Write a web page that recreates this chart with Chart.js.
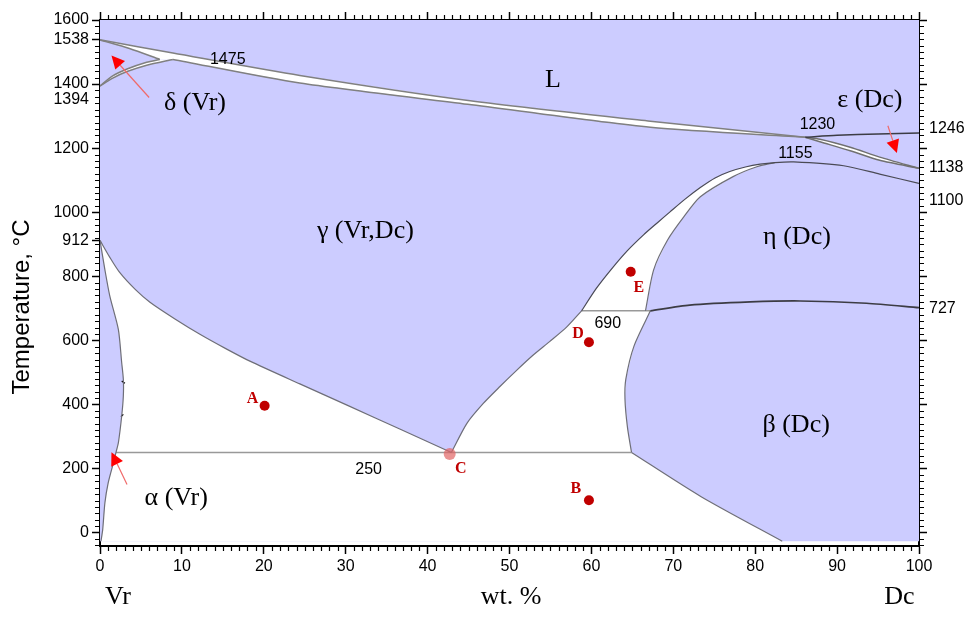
<!DOCTYPE html>
<html>
<head>
<meta charset="utf-8">
<title>Vr-Dc phase diagram</title>
<script src="https://cdn.jsdelivr.net/npm/chart.js@4.4.0/dist/chart.umd.min.js"></script>
<style>
  html, body { margin: 0; padding: 0; background: #fff; }
  #chart { display: block; }
</style>
</head>
<body>
<canvas id="chart" width="975" height="627"></canvas>
<script>
// Phase boundaries, every point is [wt. %, temperature in °C]
const liquidus = [[0, 1538], [8.9, 1497], [24.4, 1427], [45.2, 1348], [67.2, 1284], [86.1, 1234]];
const solidus = [[86.1, 1234], [67.2, 1265], [44.9, 1337], [24.4, 1403], [8.9, 1477]];
const deltaSolidus = [[7.3, 1477], [3.6, 1511], [0, 1538]];
const deltaUpper = [[0, 1394], [1.5, 1425], [3.3, 1447], [5.7, 1468], [7.3, 1477]];
const deltaLower = [[8.9, 1477], [5.7, 1459], [3.3, 1439], [1.5, 1418], [0, 1394]];
const epsLiquidus = [[86.1, 1234], [90, 1240], [95, 1244], [100, 1247]];
const epsUpper = [[86.1, 1234], [87.9, 1228], [91.6, 1203], [95.2, 1172], [100, 1137]];
const epsLower = [[100, 1137], [95.2, 1162], [91.6, 1192], [87.9, 1220], [86.1, 1234]];
const etaTop = [[82.4, 1155], [84.7, 1157], [90.8, 1145], [95.2, 1119], [100, 1090]];
const eOuter = [[58.8, 692], [60.6, 762], [62.6, 827], [64.4, 880], [66.4, 930], [68.1, 968], [69.6, 1001], [71.4, 1040], [73.3, 1077], [75.1, 1107], [76.9, 1127], [78.8, 1141], [80.6, 1150], [82.4, 1155]];
const eInner = [[82.4, 1155], [80.2, 1142], [77.3, 1111], [73.3, 1048], [71.3, 986], [69.3, 913], [67.6, 820], [66.6, 692]];
const etaBeta = [[67.2, 692], [72, 710], [79.4, 720], [85.5, 723], [93.6, 716], [100, 702]];
const betaLeft = [[67.2, 692], [65.2, 582], [64.2, 478], [64.1, 416], [64.4, 329], [64.9, 250]];
const betaLower = [[64.9, 250], [73.4, 112], [83.3, -27]];
const gammaRight = [[42.9, 250], [44.8, 341], [46.8, 403], [48.8, 455], [50.9, 507], [52.9, 554], [54.9, 596], [57.0, 642], [58.8, 692]];
const gammaLeft = [[0, 912], [1.2, 859], [2.4, 812], [4.3, 759], [6.1, 719], [9.2, 666], [12.2, 619], [15.3, 575], [18.3, 535], [24.4, 464], [30.5, 394], [36.6, 323], [42.9, 250]];
const alphaRight = [[0, 912], [0.6, 820], [1.2, 738], [2.24, 634], [2.65, 530], [2.85, 478], [2.85, 426], [2.65, 364], [2.24, 280], [1.95, 250], [1.63, 217], [1, 155], [0.6, 93], [0.33, 9], [0.12, -27]];
const line250 = [[1.95, 250], [64.9, 250]];
const line690 = [[58.8, 692], [67.2, 692]];
const dashA = [[2.65, 473], [3.05, 466]];
const dashB = [[2.56, 362], [2.85, 369]];
const diagramBox = [[0, -27], [100, -27], [100, 1600], [0, 1600]];

// Marked alloys
const pointNames = ['A', 'B', 'C', 'D', 'E'];
const pointWt = [20.1, 59.7, 42.7, 59.7, 64.8];
const pointTemp = [396, 101, 245, 594, 814];

// Phase names and isotherm values written on the diagram
const phaseNames = ['L', 'δ (Vr)', 'ε (Dc)', 'γ (Vr,Dc)', 'η (Dc)', 'β (Dc)', 'α (Vr)'];
const phaseWt = [55.3, 11.6, 94.0, 32.4, 85.1, 85.0, 9.3];
const phaseTemp = [1413, 1341, 1350, 941, 923, 336, 108];
const isoNames = ['1475', '1230', '1155', '690', '250'];
const isoWt = [15.6, 87.6, 84.9, 62.0, 32.8];
const isoTemp = [1475, 1272, 1182, 651, 195];

// Red arrows, tail -> tip
const arrowTails = [[6.0, 1358], [96.2, 1270], [3.3, 150]];
const arrowTips = [[1.4, 1489], [97.3, 1185], [1.4, 251]];

// Tick labels
const xTicks = [0, 10, 20, 30, 40, 50, 60, 70, 80, 90, 100];
const yTicks = [0, 200, 400, 600, 800, 912, 1000, 1200, 1400, 1538, 1600];
const yMajor = [0, 200, 400, 600, 800, 1000, 1200, 1400, 1600];
const rightLabels = ['1246', '1138', '1100', '727'];
const rightValues = [1246, 1138, 1100, 727];

const lavender = '#ccccff';
const serif = '"Liberation Serif", "Times New Roman", serif';
const sans = '"Liberation Sans", Arial, sans-serif';

const pts = arr => arr.map(p => ({ x: p[0], y: p[1] }));
const rev = arr => arr.slice().reverse();

// Filled area, no outline
function region(arr, color, order) {
  return {
    data: pts(arr), fill: 'shape', backgroundColor: color,
    borderColor: 'rgba(0,0,0,0)', borderWidth: 0, pointRadius: 0, tension: 0, order: order
  };
}

// Boundary curve
function boundary(arr, color, width) {
  return {
    data: pts(arr), fill: false, borderColor: color, borderWidth: width,
    pointRadius: 0, tension: 0.25, order: 5
  };
}

const bigWhite = [...alphaRight, ...rev(betaLower), ...rev(betaLeft), ...rev(line690), ...rev(gammaRight), ...rev(gammaLeft)];
const topBand = [...liquidus, ...solidus, ...deltaSolidus];

const edge = '#6e6e78';
const datasets = [
  {
    data: pointWt.map((v, i) => ({ x: v, y: pointTemp[i] })),
    showLine: false,
    pointRadius: [5, 5, 6, 5, 5],
    pointBackgroundColor: ['#c00000', '#c00000', 'rgba(225,100,100,0.7)', '#c00000', '#c00000'],
    pointBorderWidth: 0,
    order: 1
  },
  region(diagramBox, lavender, 10),
  region(bigWhite, '#ffffff', 9),
  region(topBand, '#ffffff', 9),
  region([...deltaUpper, ...deltaLower], '#ffffff', 9),
  region([...epsUpper, ...epsLower], '#ffffff', 9),
  region([...eOuter, ...eInner], '#ffffff', 9),
  boundary(liquidus, '#808080', 1.5),
  boundary(solidus, '#808080', 1.5),
  boundary(deltaSolidus, '#808080', 1.5),
  boundary(deltaUpper, '#808080', 1.5),
  boundary(deltaLower, '#808080', 1.5),
  boundary(epsLiquidus, '#3c3c44', 1.5),
  boundary(epsUpper, '#707070', 1.5),
  boundary(epsLower, '#707070', 1.5),
  boundary([...eOuter, ...etaTop.slice(1)], '#4a4a55', 1.2),
  boundary(eInner, edge, 1.2),
  boundary(etaBeta, '#3c3c44', 1.6),
  boundary(betaLeft, edge, 1.2),
  boundary(betaLower, edge, 1.2),
  boundary(gammaRight, edge, 1.2),
  boundary(gammaLeft, edge, 1.2),
  boundary(alphaRight, edge, 1.2),
  boundary(line250, '#999999', 1.5),
  boundary(line690, '#999999', 1.5),
  boundary(dashA, '#000000', 1.2),
  boundary(dashB, '#000000', 1.2)
];

// Axis helpers
const tickGrid = { display: true, drawOnChartArea: false, drawTicks: true, tickLength: 8, tickColor: '#000', tickWidth: 1.5 };
const axisBorder = { display: true, color: '#000', width: 2 };
const tickFont = { family: sans, size: 16 };
const setTicks = values => scale => { scale.ticks = values.map(v => ({ value: v })); };

// Draws minor ticks, texts and arrows
const annotations = {
  id: 'annotations',
  beforeDraw(chart) {
    const ctx = chart.ctx;
    ctx.save();
    ctx.fillStyle = '#fff';
    ctx.fillRect(0, 0, chart.width, chart.height);
    ctx.restore();
  },
  afterDraw(chart) {
    const { ctx, chartArea: area } = chart;
    const x = chart.scales.x;
    const y = chart.scales.y;
    const px = v => x.getPixelForValue(v);
    const py = v => y.getPixelForValue(v);
    ctx.save();

    // minor ticks
    ctx.strokeStyle = '#000';
    ctx.lineWidth = 1.2;
    ctx.beginPath();
    for (let v = 1; v < 100; v++) {
      if (v % 10 === 0) continue;
      const p = Math.round(px(v)) + 0.5;
      ctx.moveTo(p, area.bottom); ctx.lineTo(p, area.bottom + 5);
      ctx.moveTo(p, area.top); ctx.lineTo(p, area.top - 5);
    }
    for (let v = -40; v < 1600; v += 20) {
      if (v % 200 === 0) continue;
      const p = Math.round(py(v)) + 0.5;
      ctx.moveTo(area.left - 5, p); ctx.lineTo(area.left, p);
      ctx.moveTo(area.right, p); ctx.lineTo(area.right + 5, p);
    }
    ctx.stroke();

    ctx.fillStyle = '#000';
    ctx.textBaseline = 'middle';

    // extra tick labels
    ctx.font = '16px ' + sans;
    ctx.textAlign = 'right';
    ctx.fillText('1394', area.left - 11, py(1394) + 14);
    const rightNudge = [-5, 0, 20, 9];
    ctx.textAlign = 'left';
    rightLabels.forEach((t, i) => ctx.fillText(t, area.right + 10, py(rightValues[i]) + rightNudge[i]));

    // phase names
    ctx.textAlign = 'center';
    ctx.font = '26px ' + serif;
    phaseNames.forEach((t, i) => ctx.fillText(t, px(phaseWt[i]), py(phaseTemp[i])));

    // isotherm values
    ctx.font = '16px ' + sans;
    isoNames.forEach((t, i) => ctx.fillText(t, px(isoWt[i]), py(isoTemp[i])));

    // point letters
    const letterNudge = [[-12, -7], [-13, -11], [11, 15], [-11, -8], [8, 16]];
    ctx.font = 'bold 16px ' + serif;
    ctx.fillStyle = '#c00000';
    pointNames.forEach((t, i) => {
      ctx.fillText(t, px(pointWt[i]) + letterNudge[i][0], py(pointTemp[i]) + letterNudge[i][1]);
    });

    // arrows
    arrowTails.forEach((tail, i) => {
      const x0 = px(tail[0]), y0 = py(tail[1]);
      const x1 = px(arrowTips[i][0]), y1 = py(arrowTips[i][1]);
      const a = Math.atan2(y1 - y0, x1 - x0);
      const len = 13, half = 6.5;
      const bx = x1 - len * Math.cos(a), by = y1 - len * Math.sin(a);
      ctx.strokeStyle = '#f06a6a';
      ctx.lineWidth = 1.2;
      ctx.beginPath();
      ctx.moveTo(x0, y0); ctx.lineTo(bx, by);
      ctx.stroke();
      ctx.fillStyle = '#ff0000';
      ctx.beginPath();
      ctx.moveTo(x1, y1);
      ctx.lineTo(bx + half * Math.sin(a), by - half * Math.cos(a));
      ctx.lineTo(bx - half * Math.sin(a), by + half * Math.cos(a));
      ctx.closePath();
      ctx.fill();
    });

    // axis titles
    ctx.fillStyle = '#000';
    ctx.font = '26px ' + serif;
    ctx.fillText('Vr', px(2.2), 597);
    ctx.fillText('wt. %', px(50.2), 597);
    ctx.fillText('Dc', px(97.6), 597);

    ctx.translate(22, 307);
    ctx.rotate(-Math.PI / 2);
    ctx.font = '24px ' + sans;
    ctx.fillText('Temperature, °C', 0, 0);
    ctx.restore();
  }
};

new Chart(document.getElementById('chart'), {
  type: 'line',
  data: { datasets: datasets },
  options: {
    responsive: false,
    animation: false,
    layout: { padding: 0 },
    plugins: { legend: { display: false }, tooltip: { enabled: false } },
    events: [],
    scales: {
      x: {
        type: 'linear', position: 'bottom', min: 0, max: 100, z: 1,
        afterBuildTicks: setTicks(xTicks),
        afterFit: s => { s.height = 81; },
        ticks: { font: tickFont, color: '#000', padding: 3, maxRotation: 0, autoSkip: false },
        grid: tickGrid, border: axisBorder
      },
      x2: {
        type: 'linear', position: 'top', min: 0, max: 100, z: 1,
        afterBuildTicks: setTicks(xTicks),
        afterFit: s => { s.height = 20; },
        ticks: { display: false },
        grid: tickGrid, border: axisBorder
      },
      y: {
        type: 'linear', position: 'left', min: -42, max: 1600, z: 1,
        afterBuildTicks: setTicks(yTicks),
        afterFit: s => { s.width = 100; },
        ticks: { font: tickFont, color: '#000', padding: 3, autoSkip: false, callback: v => String(v) },
        grid: tickGrid, border: axisBorder
      },
      y2: {
        type: 'linear', position: 'right', min: -42, max: 1600, z: 1,
        afterBuildTicks: setTicks(yMajor),
        afterFit: s => { s.width = 56; },
        ticks: { display: false },
        grid: tickGrid, border: axisBorder
      }
    }
  },
  plugins: [annotations]
});
</script>
</body>
</html>
